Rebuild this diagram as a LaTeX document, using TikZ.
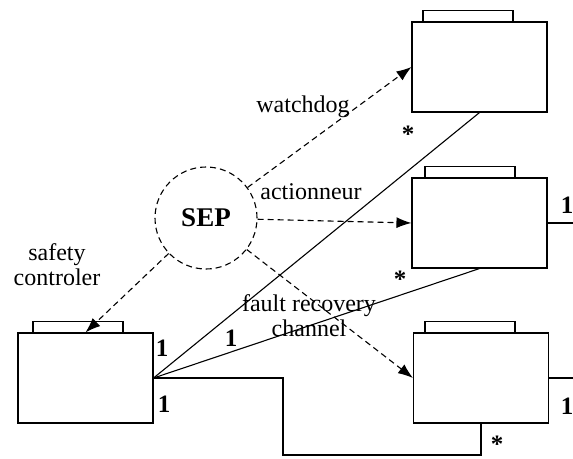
\documentclass[tikz,border=0pt]{standalone}
\usepackage{fontspec}
\setmainfont{Liberation Serif}
\usetikzlibrary{arrows.meta,calc}
\begin{document}
\begin{tikzpicture}[x=1pt,y=-1pt,
  box/.style={draw,line width=1.1pt,minimum width=135pt,minimum height=90pt,inner sep=0pt},
  tab/.style={draw,line width=1.1pt,minimum width=90pt,minimum height=11pt,inner sep=0pt},
  lbl/.style={font=\fontsize{24}{25}\selectfont,inner sep=0pt},
  num/.style={font=\fontsize{25}{26}\selectfont\bfseries,inner sep=0pt},
  star/.style={font=\fontsize{25}{26}\selectfont\bfseries,inner sep=0pt,text height=12pt,text depth=0pt},
  conn/.style={line width=1.1pt},
  dep/.style={dashed,dash pattern=on 6pt off 4pt,line width=1.1pt,-{Latex[length=15pt,width=11pt]}}
]
\useasboundingbox (0,0) rectangle (573,458);
% boxes
\node[box] (L) at (85.5,378) {};
\node[tab,anchor=south] (Lt) at (78,333) {};
\node[box] (T) at (479.5,67) {};
\node[tab,anchor=south] (Tt) at (468,22) {};
\node[box] (M) at (479.5,223) {};
\node[tab,anchor=south] (Mt) at (470,178) {};
\node[box] (B) at (481,378) {};
\node[tab,anchor=south] (Bt) at (470,333) {};
% SEP
\node[draw,circle,dashed,dash pattern=on 6pt off 4pt,line width=1.1pt,minimum size=102pt,inner sep=0pt,font=\fontsize{27}{28}\selectfont\bfseries] (S) at (206,218) {SEP};
% solid connectors
\coordinate (k1) at (283,455);
\coordinate (e1) at (573,223);
\coordinate (e2) at (573,378);
\draw[conn] (L.east) -- (T.south);
\draw[conn] (L.east) -- (M.south);
\draw[conn] (L.east) -| (k1) -| (B.south);
\draw[conn] (M.east) -- (e1);
\draw[conn] (B.east) -- (e2);
% dashed dependencies
\draw[dep] (S) -- (T.west);
\draw[dep] (S) -- (M.west);
\draw[dep] (S) -- (B.west);
\draw[dep] (S) -- (L.north);
% labels
\node[lbl] (w) at (303,107) {watchdog};
\node[lbl] (a) at (311,192) {actionneur};
\node[lbl,align=center] (sc) at (57,265) {safety\\controler};
\node[lbl,align=center] (fr) at (309,316) {fault recovery\\channel};
\node[star] (s1) at (408,136) {*};
\node[star] (s2) at (400,281) {*};
\node[star] (s3) at (497,446) {*};
\node[num] (n1) at (162,348) {1};
\node[num] (n2) at (164,404) {1};
\node[num] (n3) at (231,338) {1};
\node[num] (n4) at (567,205) {1};
\node[num] (n5) at (567,406) {1};
\end{tikzpicture}
\end{document}
